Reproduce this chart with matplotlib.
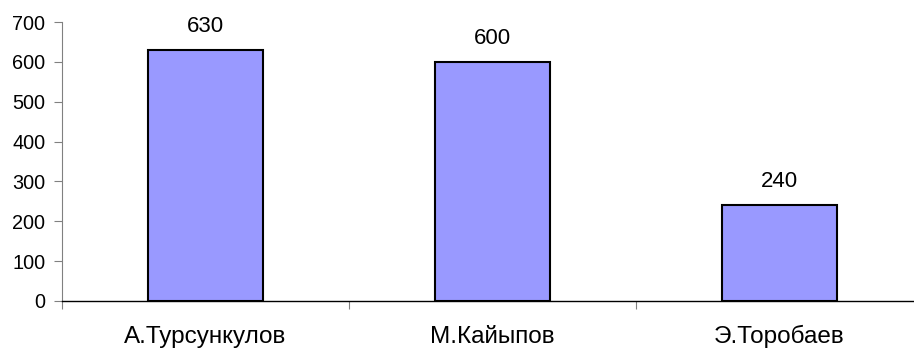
import matplotlib
matplotlib.use("Agg")
import matplotlib.pyplot as plt
import numpy as np

names = ["А.Турсункулов", "М.Кайыпов", "Э.Торобаев"]
values = [630, 600, 240]
y_ticks = [0, 100, 200, 300, 400, 500, 600, 700]

plt.rcParams['font.family'] = ['Liberation Sans', 'DejaVu Sans']

fig = plt.figure(figsize=(9.14, 3.5), dpi=100)
# axes run slightly past the right edge, like the original
ax = fig.add_axes([62 / 914, 49 / 350, 861 / 914, 279 / 350])

x = np.arange(len(names))
bars = ax.bar(x, values, width=0.4, color="#9999FF", edgecolor="black", linewidth=1.5)

for xi, v in zip(x, values):
    ax.text(xi, v + 45, str(v), ha="center", va="baseline", fontsize=16)

ax.set_xlim(-0.5, len(names) - 0.5)
ax.set_ylim(0, 700)
ax.set_yticks(y_ticks)
ax.tick_params(axis="y", labelsize=14.3, length=6, width=0.8, direction="out", pad=6)

# category separators as ticks, names drawn as text
ax.set_xticks(np.arange(len(names) + 1) - 0.5)
ax.set_xticklabels([])
ax.tick_params(axis="x", length=6, width=0.8, direction="out", color="gray")
for xi, n in zip(x, names):
    ax.text(xi, -0.152, n, transform=ax.get_xaxis_transform(), ha="center", va="baseline", fontsize=17.5)

ax.spines["top"].set_visible(False)
ax.spines["right"].set_visible(False)
ax.spines["left"].set_color("gray")
ax.spines["bottom"].set_linewidth(1.0)
ax.tick_params(axis="y", color="gray")

fig.savefig("out.png", dpi=100)
